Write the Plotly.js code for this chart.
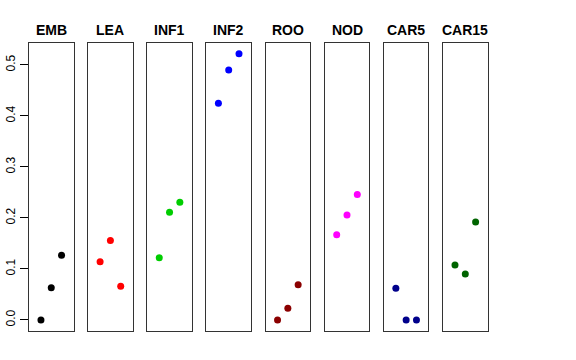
<!DOCTYPE html>
<html>
<head>
<meta charset="utf-8">
<script src="https://cdn.plot.ly/plotly-3.0.1.min.js"></script>
<style>html,body{margin:0;padding:0;background:#fff;}#chart{width:576px;height:360px;}</style>
</head>
<body>
<div id="chart"></div>
<script>
var categories = ['EMB', 'LEA', 'INF1', 'INF2', 'ROO', 'NOD', 'CAR5', 'CAR15'];
var xPositions = [1, 2, 3];
var emb   = [0.000, 0.063, 0.127];
var lea   = [0.114, 0.156, 0.066];
var inf1  = [0.122, 0.211, 0.231];
var inf2  = [0.425, 0.490, 0.522];
var roo   = [0.000, 0.023, 0.069];
var nod   = [0.167, 0.206, 0.246];
var car5  = [0.062, 0.000, 0.000];
var car15 = [0.108, 0.090, 0.192];
var seriesValues = [emb, lea, inf1, inf2, roo, nod, car5, car15];
var colors = ['#000000', '#FF0000', '#00CD00', '#0000FF', '#8B0000', '#FF00FF', '#00008B', '#006400'];
var yTickVals = [0, 0.1, 0.2, 0.3, 0.4, 0.5];
var yTickText = ['0.0', '0.1', '0.2', '0.3', '0.4', '0.5'];

var W = 576, H = 360;
var panelLeft = 29, panelPitch = 59.15, panelWidth = 44.5;
var panelTop = 43.3, panelBottom = 330.7;

var traces = [];
var layout = {
  width: W, height: H,
  margin: {l: 0, r: 0, t: 0, b: 0},
  paper_bgcolor: '#fff', plot_bgcolor: '#fff',
  showlegend: false,
  font: {family: 'Liberation Sans, Arial, sans-serif', color: '#000'},
  annotations: []
};

categories.forEach(function (cat, i) {
  var n = i === 0 ? '' : String(i + 1);
  traces.push({
    type: 'scatter', mode: 'markers',
    x: xPositions, y: seriesValues[i],
    xaxis: 'x' + n, yaxis: 'y' + n,
    marker: {color: colors[i], size: 7},
    hoverinfo: 'skip'
  });
  var x0 = (panelLeft + i * panelPitch) / W;
  var x1 = (panelLeft + i * panelPitch + panelWidth) / W;
  layout['xaxis' + n] = {
    domain: [x0, x1], range: [-0.16, 4.16], anchor: 'y' + n,
    showgrid: false, zeroline: false, showticklabels: false, ticks: '',
    showline: true, mirror: true, linecolor: '#333', linewidth: 1, fixedrange: true
  };
  var ya = {
    domain: [1 - panelBottom / H, 1 - panelTop / H], range: [-0.021, 0.5425], anchor: 'x' + n,
    showgrid: false, zeroline: false,
    showline: true, mirror: true, linecolor: '#333', linewidth: 1, fixedrange: true
  };
  if (i === 0) {
    ya.tickmode = 'array';
    ya.tickvals = yTickVals;
    ya.ticktext = yTickText;
    ya.ticks = 'outside';
    ya.ticklen = 8;
    ya.tickcolor = '#000';
    ya.tickangle = -90;
    ya.tickfont = {size: 12, color: '#000', family: 'Liberation Sans, Arial, sans-serif'};
    ya.showticklabels = true;
  } else {
    ya.showticklabels = false;
    ya.ticks = '';
  }
  layout['yaxis' + n] = ya;
  layout.annotations.push({
    text: '<b>' + cat + '</b>', xref: 'paper', yref: 'paper',
    x: (x0 + x1) / 2, y: 1 - 30 / H, xanchor: 'center', yanchor: 'middle',
    showarrow: false, font: {size: 14, color: '#000', family: 'Liberation Sans, Arial, sans-serif'}
  });
});

Plotly.newPlot('chart', traces, layout, {staticPlot: true, displayModeBar: false});
</script>
</body>
</html>
